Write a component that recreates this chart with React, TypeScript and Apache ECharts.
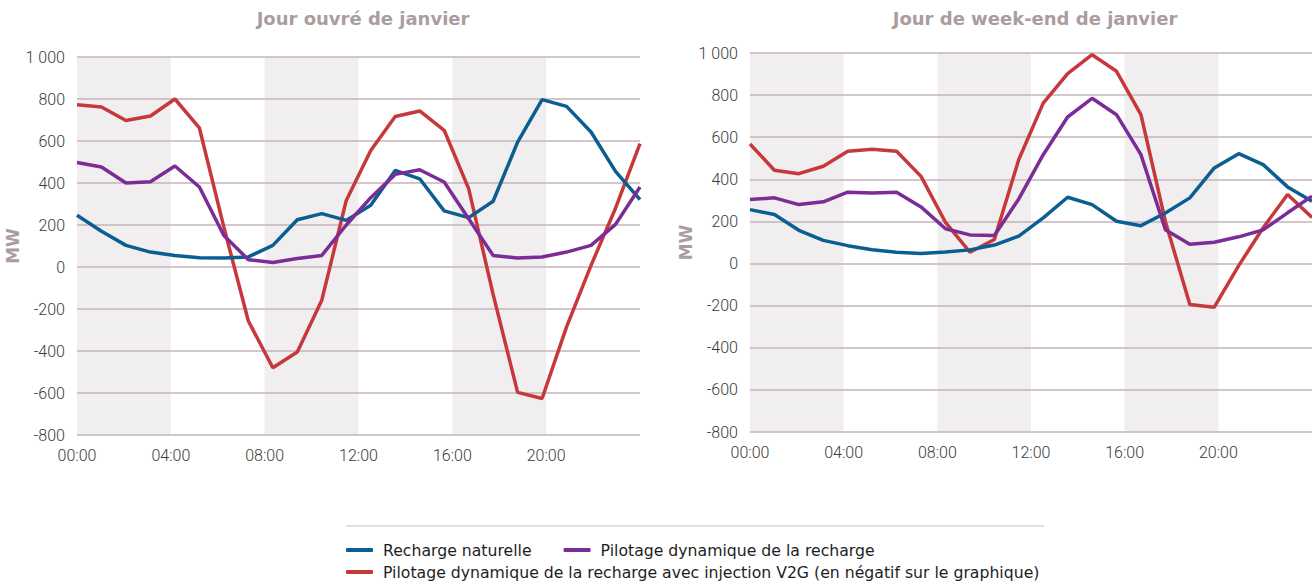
import React, { useEffect, useRef } from 'react';
import * as echarts from 'echarts';

// Hourly categories (24 points per day)
const hours = [
  '00:00', '01:00', '02:00', '03:00', '04:00', '05:00', '06:00', '07:00',
  '08:00', '09:00', '10:00', '11:00', '12:00', '13:00', '14:00', '15:00',
  '16:00', '17:00', '18:00', '19:00', '20:00', '21:00', '22:00', '23:00',
];
// Tick labels shown under each chart (every 4 hours)
const xTickLabels = ['00:00', '04:00', '08:00', '12:00', '16:00', '20:00'];

const seriesNames = [
  'Recharge naturelle',
  'Pilotage dynamique de la recharge',
  'Pilotage dynamique de la recharge avec injection V2G (en négatif sur le graphique)',
];

const titles = ['Jour ouvré de janvier', 'Jour de week-end de janvier'];

// Jour ouvré (MW)
const weekdayNatural = [246, 170, 103, 71, 55, 44, 43, 48, 103, 225, 254, 222, 294, 460, 420, 267, 235, 313, 595, 797, 765, 643, 455, 321];
const weekdayPilot = [498, 476, 400, 406, 481, 381, 150, 35, 21, 40, 55, 200, 330, 441, 463, 405, 230, 55, 43, 48, 71, 103, 203, 381];
const weekdayV2G = [773, 762, 698, 719, 800, 662, 190, -257, -480, -405, -158, 317, 555, 717, 743, 651, 373, -130, -597, -626, -285, 8, 280, 587];

// Week-end (MW)
const weekendNatural = [256, 233, 158, 110, 85, 66, 54, 48, 55, 65, 88, 130, 217, 315, 280, 201, 180, 240, 312, 454, 522, 470, 364, 296];
const weekendPilot = [304, 312, 280, 293, 339, 335, 339, 269, 165, 136, 133, 307, 517, 696, 785, 707, 517, 161, 92, 101, 127, 160, 241, 320];
const weekendV2G = [568, 443, 427, 462, 533, 543, 533, 414, 196, 54, 114, 494, 762, 902, 992, 913, 707, 200, -195, -207, -10, 170, 328, 219];

const colors = ['#0B5E90', '#7B2C96', '#C7383B'];

const axisFont = { fontFamily: 'Roboto', fontSize: 16, color: '#3a3a3a', fontWeight: 300 as any };
const titleFont = { fontFamily: 'DejaVu Sans', fontSize: 18, fontWeight: 'bold' as any, color: '#A99DA0' };

function fmtY(v: number): string {
  const s = String(Math.abs(v)).replace(/\B(?=(\d{3})+(?!\d))/g, ' ');
  return (v < 0 ? '-' : '') + s;
}

export default function App() {
  const ref = useRef<HTMLDivElement>(null);

  useEffect(() => {
    if (!ref.current) return;
    const chart = echarts.init(ref.current, undefined, { renderer: 'svg' });

    const grids = [
      { left: 77, top: 57, width: 563, height: 378 },
      { left: 750, top: 53, width: 562, height: 379 },
    ];

    const xAxes: any[] = [];
    const yAxes: any[] = [];
    [0, 1].forEach((g) => {
      xAxes.push({
        type: 'category', gridIndex: g, data: hours, boundaryGap: false, show: false,
      });
      xAxes.push({
        type: 'value', gridIndex: g, min: 0, max: 24, interval: 4, position: 'bottom', z: 0,
        axisLine: { show: false }, axisTick: { show: false }, splitLine: { show: false },
        splitArea: { show: true, areaStyle: { color: ['#F1EEF0', 'rgba(255,255,255,0)'] } },
        axisLabel: {
          ...axisFont, margin: 12, showMaxLabel: false,
          formatter: (v: number) => xTickLabels[v / 4] ?? '',
        },
      });
      yAxes.push({
        type: 'value', gridIndex: g, min: -800, max: 1000, interval: 200, z: 1,
        axisLine: { show: false }, axisTick: { show: false },
        splitLine: { lineStyle: { color: '#C5B3BD', width: 1.5 } },
        axisLabel: { ...axisFont, margin: 12, formatter: fmtY },
        name: 'MW', nameLocation: 'middle', nameRotate: 90, nameGap: g === 0 ? 54 : 55,
        nameTextStyle: { ...titleFont, fontSize: 17 },
      });
    });

    const datasets = [
      [weekdayNatural, weekdayPilot, weekdayV2G],
      [weekendNatural, weekendPilot, weekendV2G],
    ];
    const series: any[] = [];
    datasets.forEach((set, g) => {
      set.forEach((data, k) => {
        series.push({
          type: 'line', name: seriesNames[k], data, xAxisIndex: g * 2, yAxisIndex: g,
          showSymbol: false, symbol: 'none', smooth: false,
          lineStyle: { color: colors[k], width: 3.5 }, itemStyle: { color: colors[k] },
          z: k === 2 ? 3 : 4,
        });
      });
    });

    const legendText = { fontFamily: 'DejaVu Sans', fontSize: 15.7, color: '#1e1e1e', padding: [0, 0, 0, 5] };

    chart.setOption({
      animation: false,
      backgroundColor: '#ffffff',
      title: [
        { text: titles[0], left: 358, top: 4, textAlign: 'center', textStyle: titleFont },
        { text: titles[1], left: 1030, top: 4, textAlign: 'center', textStyle: titleFont },
      ],
      grid: grids,
      xAxis: xAxes,
      yAxis: yAxes,
      legend: [
        {
          data: [seriesNames[0], seriesNames[1]], left: 346, top: 542, padding: 0, orient: 'horizontal',
          icon: 'roundRect', itemWidth: 27, itemHeight: 4, itemGap: 32, selectedMode: false,
          textStyle: legendText,
        },
        {
          data: [seriesNames[2]], left: 346, top: 564, padding: 0, orient: 'horizontal',
          icon: 'roundRect', itemWidth: 27, itemHeight: 4, selectedMode: false,
          textStyle: legendText,
        },
      ],
      graphic: [
        {
          type: 'line', shape: { x1: 346, y1: 526, x2: 1044, y2: 526 },
          style: { stroke: '#CDBCC6', lineWidth: 1 }, silent: true,
        },
      ],
      series,
    });

    return () => chart.dispose();
  }, []);

  return (
    <div
      ref={ref}
      style={{ position: 'absolute', left: 0, top: 0, width: 1312, height: 586 }}
    />
  );
}
